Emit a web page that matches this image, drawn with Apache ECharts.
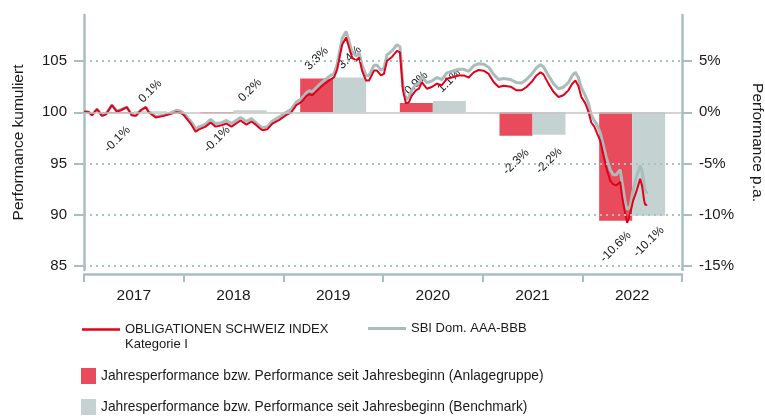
<!DOCTYPE html>
<html>
<head>
<meta charset="utf-8">
<script src="https://cdn.jsdelivr.net/npm/echarts@6/dist/echarts.min.js"></script>
<style>
  html, body { margin: 0; padding: 0; background: #fff; }
  #chart { width: 765px; height: 416px; }
</style>
</head>
<body>
<div id="chart"></div>
<script>
// Jahre und Jahresperformance in %
const years = ['2017', '2018', '2019', '2020', '2021', '2022'];
const fundBars = [-0.1, -0.1, 3.3, 0.9, -2.3, -10.6];
const benchBars = [0.1, 0.2, 3.4, 1.1, -2.2, -10.1];

// Zeitachse (Dezimaljahre) und kumulierte Performance
const lineTimes = [
  2017.00, 2017.05, 2017.08, 2017.13, 2017.18, 2017.22, 2017.28, 2017.33, 2017.37, 2017.43,
  2017.48, 2017.52, 2017.57, 2017.62, 2017.65, 2017.72, 2017.80, 2017.87, 2017.93, 2017.97,
  2018.00, 2018.07, 2018.12, 2018.15, 2018.22, 2018.27, 2018.32, 2018.37, 2018.43, 2018.48,
  2018.57, 2018.63, 2018.68, 2018.71, 2018.76, 2018.79, 2018.84, 2018.89, 2018.96, 2019.03,
  2019.08, 2019.13, 2019.18, 2019.23, 2019.26, 2019.29, 2019.34, 2019.39, 2019.46, 2019.51,
  2019.54, 2019.59, 2019.63, 2019.66, 2019.69, 2019.73, 2019.76, 2019.79, 2019.83, 2019.86,
  2019.91, 2019.94, 2019.98, 2020.01, 2020.04, 2020.09, 2020.14, 2020.17, 2020.20, 2020.23,
  2020.26, 2020.29, 2020.33, 2020.36, 2020.39, 2020.44, 2020.49, 2020.54, 2020.59, 2020.64,
  2020.69, 2020.76, 2020.81, 2020.86, 2020.91, 2020.96, 2021.01, 2021.06, 2021.11, 2021.16,
  2021.21, 2021.28, 2021.34, 2021.39, 2021.44, 2021.49, 2021.54, 2021.58, 2021.61, 2021.66,
  2021.71, 2021.76, 2021.81, 2021.86, 2021.90, 2021.93, 2021.96, 2021.99, 2022.03, 2022.06,
  2022.09, 2022.12, 2022.14, 2022.18, 2022.21, 2022.24, 2022.28, 2022.31, 2022.34, 2022.38,
  2022.40, 2022.43, 2022.45, 2022.48, 2022.51, 2022.54, 2022.58, 2022.60, 2022.62, 2022.63,
  2022.65
];
const fundLine = [
  100.07, 100.0, 99.7, 100.3, 99.65, 99.8, 100.7, 100.07, 100.2, 100.5,
  99.7, 99.65, 100.2, 100.5, 100.0, 99.5, 99.65, 99.85, 100.0, 99.95,
  99.75, 98.9, 98.1, 98.3, 98.6, 99.0, 98.6, 98.7, 98.9, 98.6,
  99.2, 98.8, 99.1, 98.9, 98.46, 98.24, 98.35, 98.9, 99.26, 99.74,
  100.0, 100.7, 101.0, 101.57, 101.76, 101.66, 102.14, 102.6, 103.1, 103.43,
  104.2, 106.6, 107.3, 106.3, 105.35, 105.03, 105.35, 104.07, 103.1, 103.1,
  104.07, 104.07, 103.6, 103.76, 105.03, 105.4, 106.0, 105.85, 102.14, 100.87,
  101.0, 101.66, 102.14, 102.3, 102.95, 102.3, 102.47, 102.8, 102.64, 103.27,
  103.4, 103.6, 103.6, 103.4, 103.9, 104.13, 104.06, 103.75, 102.95, 102.47,
  102.6, 102.5, 102.14, 102.14, 102.47, 102.95, 103.6, 103.9, 103.7, 102.8,
  102.0, 101.5, 101.66, 102.14, 102.8, 103.1, 102.6, 101.5, 100.87, 100.1,
  99.0, 98.6, 98.46, 97.2, 95.9, 94.6, 93.3, 92.96, 92.86, 93.2,
  91.7, 90.1, 89.2, 90.1, 91.4, 92.2, 93.5, 92.8, 91.4, 91.0,
  90.9
];
const benchLine = [
  100.1, 100.0, 99.75, 100.3, 99.7, 99.85, 100.7, 100.1, 100.25, 100.5,
  99.75, 99.7, 100.2, 100.5, 100.05, 99.6, 99.7, 99.95, 100.2, 100.1,
  99.9, 99.15, 98.4, 98.55, 98.85, 99.3, 98.9, 98.95, 99.2, 98.9,
  99.5, 99.1, 99.4, 99.1, 98.7, 98.5, 98.6, 99.15, 99.55, 100.0,
  100.3, 101.0, 101.3, 101.9, 102.1, 102.0, 102.5, 102.95, 103.5, 103.8,
  104.7, 107.2, 107.9, 106.9, 105.9, 105.5, 105.8, 104.6, 103.6, 103.6,
  104.6, 104.6, 104.1, 104.3, 105.6, 106.0, 106.6, 106.4, 102.6, 101.25,
  101.5, 102.2, 102.7, 102.8, 103.5, 102.9, 103.05, 103.4, 103.2, 103.85,
  104.0, 104.2, 104.2, 104.0, 104.55, 104.75, 104.7, 104.4, 103.7, 103.2,
  103.3, 103.2, 102.9, 102.85, 103.2, 103.7, 104.35, 104.65, 104.45, 103.6,
  102.8, 102.3, 102.45, 102.9, 103.6, 103.9, 103.4, 102.4, 101.6, 100.9,
  99.7, 99.2, 98.9, 98.0, 96.8, 95.6, 94.4, 93.9, 93.9, 94.4,
  93.1, 91.2, 90.5, 90.8, 92.4, 93.6, 94.8, 94.2, 93.0, 92.4,
  92.05
];

// Achsenbeschriftungen
const leftTicks = [85, 90, 95, 100, 105];
const rightTicks = [-15, -10, -5, 0, 5];
const gridDotted = [85, 90, 95, 105];
const gridZero = 100;

const NAME_FUND = 'OBLIGATIONEN SCHWEIZ INDEX Kategorie I';
const NAME_BENCH = 'SBI Dom. AAA-BBB';
const NAME_BAR_FUND = 'Jahresperformance bzw. Performance seit Jahresbeginn (Anlagegruppe)';
const NAME_BAR_BENCH = 'Jahresperformance bzw. Performance seit Jahresbeginn (Benchmark)';

const FONT = 'Liberation Sans, Arial, sans-serif';
const AXIS_COLOR = '#a9bfbf';
const TEXT_COLOR = '#1a1a1a';

let chart = echarts.init(document.getElementById('chart'));

// Balkenlabel oben bei positiven, unten bei negativen Werten
function barData(values) {
  return values.map(function (v) {
    return {
      value: v,
      label: { position: v < 0 ? 'bottom' : 'top', distance: v < 0 ? 26 : 20 }
    };
  });
}

function pairs(values) {
  return lineTimes.map(function (t, i) { return [t, values[i]]; });
}

let barLabel = {
  show: true,
  rotate: 45,
  align: 'center',
  verticalAlign: 'middle',
  formatter: '{c}%',
  fontFamily: FONT,
  fontSize: 12,
  color: TEXT_COLOR
};

let gridLines = gridDotted.map(function (v) {
  return { yAxis: v, lineStyle: { type: [2, 4], width: 2, color: '#a9c3c3' } };
});
gridLines.push({ yAxis: gridZero, lineStyle: { type: 'solid', width: 1.5, color: '#c4c4c4' } });

let option = {
  animation: false,
  textStyle: { fontFamily: FONT },
  grid: { left: 84, right: 83, top: 15, bottom: 146, outerBoundsMode: 'none' },
  legend: [{
      left: 82,
      top: 307,
      padding: 0,
      selectedMode: false,
      icon: 'rect',
      itemWidth: 38,
      itemHeight: 2.5,
      // leere erste Zeile, damit die erste Textzeile auf Höhe der Linie steht
      formatter: function () {
        return ' \nOBLIGATIONEN SCHWEIZ INDEX\nKategorie I';
      },
      textStyle: { fontSize: 13, color: TEXT_COLOR, lineHeight: 15 },
      data: [NAME_FUND]
    },
    {
      left: 368,
      top: 321,
      padding: 0,
      selectedMode: false,
      icon: 'rect',
      itemWidth: 38,
      itemHeight: 3,
      textStyle: { fontSize: 13, color: TEXT_COLOR, lineHeight: 15 },
      data: [NAME_BENCH]
    },
    {
      left: 81,
      top: 368,
      padding: 0,
      orient: 'vertical',
      selectedMode: false,
      itemWidth: 15,
      itemHeight: 16,
      itemGap: 15,
      icon: 'rect',
      textStyle: { fontSize: 13.75, color: TEXT_COLOR },
      data: [NAME_BAR_FUND, NAME_BAR_BENCH]
    }
  ],
  xAxis: [{
      type: 'category',
      data: years,
      boundaryGap: true,
      offset: 4,
      axisLine: { onZero: false, lineStyle: { color: AXIS_COLOR, width: 2.5 } },
      axisTick: { show: true, length: 8, lineStyle: { color: AXIS_COLOR, width: 2 } },
      axisLabel: { fontSize: 15.5, color: TEXT_COLOR, margin: 14 },
      splitLine: { show: false }
    },
    {
      type: 'value',
      min: 2017,
      max: 2023,
      show: false
    }
  ],
  yAxis: [{
      type: 'value',
      position: 'left',
      min: 84.6,
      max: 109.5,
      name: 'Performance kumuliert',
      nameLocation: 'middle',
      nameGap: 57,
      nameTextStyle: { fontSize: 15.5, color: TEXT_COLOR },
      axisLine: { show: true, lineStyle: { color: AXIS_COLOR, width: 2.5 } },
      axisTick: { show: true, length: 10, customValues: leftTicks, lineStyle: { color: AXIS_COLOR, width: 2 } },
      axisLabel: { fontSize: 15, color: TEXT_COLOR, margin: 17, customValues: leftTicks },
      splitLine: { show: false }
    },
    {
      type: 'value',
      position: 'right',
      min: -15.4,
      max: 9.5,
      name: 'Performance p.a.',
      nameLocation: 'middle',
      nameRotate: -90,
      nameGap: 67,
      nameTextStyle: { fontSize: 15.5, color: TEXT_COLOR },
      axisLine: { show: true, lineStyle: { color: AXIS_COLOR, width: 2.5 } },
      axisTick: { show: true, length: 10, customValues: rightTicks, lineStyle: { color: AXIS_COLOR, width: 2 } },
      axisLabel: { fontSize: 15, color: TEXT_COLOR, margin: 17, customValues: rightTicks, formatter: '{value}%' },
      splitLine: { show: false }
    }
  ],
  series: [{
      name: 'grid',
      type: 'line',
      xAxisIndex: 1,
      yAxisIndex: 0,
      data: [],
      z: 1,
      markLine: {
        silent: true,
        symbol: ['none', 'none'],
        label: { show: false },
        data: gridLines
      }
    },
    {
      name: NAME_BAR_FUND,
      type: 'bar',
      xAxisIndex: 0,
      yAxisIndex: 1,
      barWidth: 33,
      barGap: '0%',
      z: 2,
      itemStyle: { color: '#e84c5c' },
      label: barLabel,
      data: barData(fundBars)
    },
    {
      name: NAME_BAR_BENCH,
      type: 'bar',
      xAxisIndex: 0,
      yAxisIndex: 1,
      barWidth: 33,
      barGap: '0%',
      z: 2,
      itemStyle: { color: '#c5d2d2' },
      label: barLabel,
      data: barData(benchBars)
    },
    {
      name: NAME_BENCH,
      type: 'line',
      xAxisIndex: 1,
      yAxisIndex: 0,
      symbol: 'none',
      z: 3,
      lineStyle: { color: '#a9bdbd', width: 3 },
      itemStyle: { color: '#a9bdbd' },
      data: pairs(benchLine)
    },
    {
      name: NAME_FUND,
      type: 'line',
      xAxisIndex: 1,
      yAxisIndex: 0,
      symbol: 'none',
      z: 4,
      lineStyle: { color: '#e3001b', width: 2 },
      itemStyle: { color: '#e3001b' },
      data: pairs(fundLine)
    }
  ]
};

chart.setOption(option);
</script>
</body>
</html>
